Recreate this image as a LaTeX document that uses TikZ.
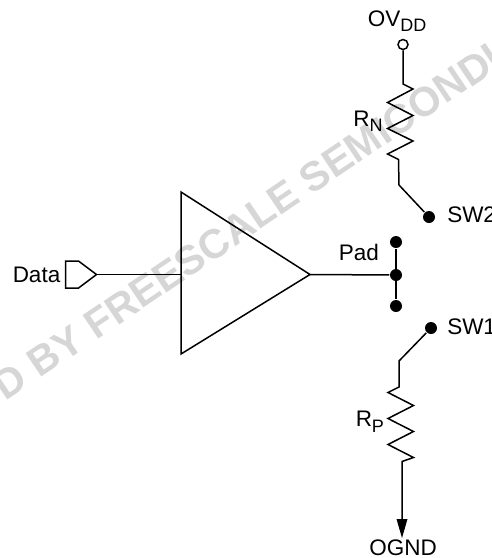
\documentclass[tikz,border=0pt]{standalone}
\usepackage{fontspec}
\setmainfont{Liberation Sans}
\newfontfamily\markfont{Liberation Sans Bold}
\usetikzlibrary{arrows.meta}

\newcommand{\lowsub}[1]{\raisebox{-5.5pt}{\fontsize{18}{18}\selectfont #1}}

\begin{document}
\begin{tikzpicture}[x=1pt,y=-1pt,line width=1.5pt,line join=miter,
    font=\fontsize{22.5}{24}\selectfont,
    dot node/.style={circle,fill=black,draw=none,inner sep=0pt,minimum size=12pt},
    open node/.style={circle,draw,fill=white,inner sep=0pt,minimum size=10pt},
    label node/.style={anchor=base west,inner sep=0pt},
    mark text/.style={anchor=base west,inner sep=0pt,text=black!16,rotate=34,font=\markfont\fontsize{41}{41}\selectfont}]

  \useasboundingbox (0,0) rectangle (492,558);

  % watermark
  \begin{scope}
    \clip (0,0) rectangle (492,558);
    \node[mark text] (stamp) at (5,402) {D BY FREESCALE SEMICONDUCTOR};
  \end{scope}

  % buffer
  \coordinate (top) at (181,192);
  \coordinate (bottom) at (181,354);
  \coordinate (tip) at (310,274.5);
  \coordinate (input) at (181,274.5);
  \draw (top) -- (tip) -- (bottom) -- cycle;

  \coordinate (flag) at (96.5,274.5);
  \draw (flag) -- ++(-18,-13.5) -- ++(-13,0) -- ++(0,27) -- ++(13,0) -- cycle;
  \draw (flag) -- (input);
  \node[label node] (data) at (12,282) {Data};

  % pad
  \node[dot node] (padtop) at (396,242) {};
  \node[dot node] (pad) at (396,275) {};
  \node[dot node] (padbottom) at (396,306) {};
  \draw (padtop) -- (padbottom);
  \draw (tip) -- (pad);
  \node[label node] (padlabel) at (338,260) {Pad};

  % upper leg
  \node[open node] (ovdd) at (403,44.5) {};
  \node[dot node] (sw2) at (429,217) {};
  \coordinate (bendn) at (399,185);
  \draw (ovdd) -- (403,84) -- ++(10,5) -- ++(-25.5,13.5) -- ++(25.5,13) -- ++(-25.5,13) -- ++(25.5,12.5) -- ++(-25.5,13) -- ++(11,5.5) -- (bendn) -- (sw2);
  \node[label node] (ovddlabel) at (367,26) {OV\lowsub{DD}};
  \node[label node] (rn) at (352.5,126) {R\lowsub{N}};
  \node[label node] (sw2label) at (446.5,222.5) {SW2};

  % lower leg
  \node[dot node] (sw1) at (431,328) {};
  \coordinate (bendp) at (399,361);
  \coordinate (gnd) at (402,538);
  \draw (sw1) -- (bendp) -- (399,387) -- ++(-11,5.5) -- ++(25.5,13) -- ++(-25.5,13) -- ++(25.5,13) -- ++(-25.5,13) -- ++(25.5,13) -- ++(-11.5,4) -- (402,522);
  \fill (gnd) -- ++(-5.5,-19) -- ++(11,0) -- cycle;
  \node[label node] (sw1label) at (446.5,334) {SW1};
  \node[label node] (rp) at (355,426.5) {R\lowsub{P}};
  \node[label node] (ogndlabel) at (368.5,555) {OGND};
\end{tikzpicture}
\end{document}
